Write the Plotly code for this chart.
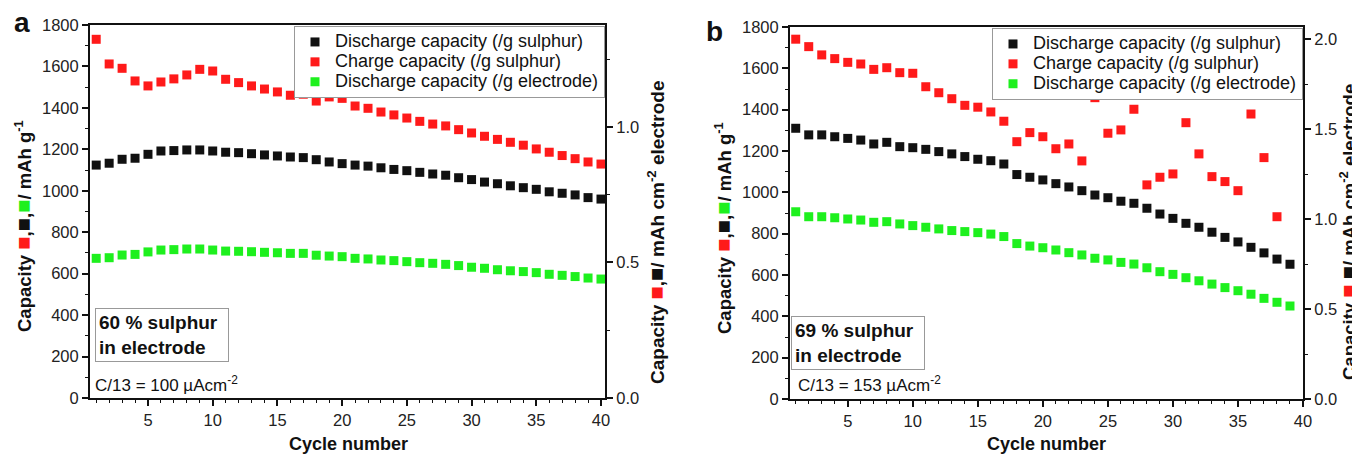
import plotly.graph_objects as go

# ---------------- data ----------------
cycles_a = list(range(1, 41))
charge_a = [1731, 1612, 1591, 1530, 1506, 1525, 1540, 1559, 1586, 1578,
            1538, 1522, 1506, 1491, 1477, 1461, 1466, 1433, 1453, 1446,
            1409, 1398, 1380, 1366, 1351, 1335, 1322, 1313, 1295, 1279,
            1263, 1248, 1234, 1220, 1202, 1186, 1170, 1155, 1139, 1129]
discharge_a = [1124, 1133, 1152, 1157, 1176, 1192, 1194, 1197, 1197, 1192,
               1186, 1184, 1179, 1173, 1168, 1163, 1160, 1150, 1139, 1131,
               1124, 1119, 1111, 1103, 1097, 1089, 1081, 1075, 1063, 1054,
               1042, 1034, 1024, 1015, 1007, 995, 988, 980, 967, 960]
electrode_a = [674, 677, 690, 693, 705, 714, 716, 719, 719, 714,
               709, 708, 706, 703, 701, 698, 698, 689, 685, 682,
               674, 671, 666, 663, 658, 653, 650, 645, 639, 631,
               626, 619, 614, 610, 605, 597, 592, 586, 579, 574]

cycles_b = list(range(1, 40))
charge_b = [1741, 1705, 1665, 1647, 1629, 1621, 1595, 1603, 1579, 1576,
            1511, 1482, 1453, 1421, 1412, 1389, 1344, 1245, 1289, 1269,
            1211, 1234, 1152, 1458, 1286, 1302, 1402, 1036, 1073, 1089,
            1337, 1186, 1076, 1052, 1008, 1379, 1168, 882]
discharge_b = [1310, 1278, 1278, 1269, 1261, 1253, 1234, 1242, 1221, 1216,
               1208, 1197, 1186, 1173, 1160, 1153, 1137, 1086, 1073, 1060,
               1042, 1026, 1008, 987, 974, 957, 947, 923, 895, 874,
               850, 831, 807, 782, 760, 734, 707, 677, 652]
electrode_b = [906, 882, 882, 877, 871, 866, 855, 858, 847, 839,
               831, 823, 815, 810, 805, 798, 786, 752, 740, 732,
               721, 708, 697, 681, 673, 661, 653, 635, 616, 603,
               587, 572, 556, 539, 524, 507, 487, 468, 450]

series_names = ["Discharge capacity (/g sulphur)",
                "Charge capacity (/g sulphur)",
                "Discharge capacity (/g electrode)"]
x_ticks = [5, 10, 15, 20, 25, 30, 35, 40]
left_ticks = [0, 200, 400, 600, 800, 1000, 1200, 1400, 1600, 1800]

# ---------------- style ----------------
W, H = 1360, 455
OFF = 8  # page offset of the plot div inside the browser window
BLACK = "#111111"
RED = "#ff1a1a"
GREEN = "#1ef01e"
FONT = "Liberation Sans, Arial, sans-serif"
MS = 9

def px(x):
    return (x - OFF) / W

def py(y):
    return 1 - (y - OFF) / H

fig = go.Figure()

def add_panel(cyc, dis, chg, ele, xa, ya, leg):
    data = [(series_names[0], cyc[:len(dis)], dis, BLACK),
            (series_names[1], cyc[:len(chg)], chg, RED),
            (series_names[2], cyc[:len(ele)], ele, GREEN)]
    for name, xs, ys, col in data:
        fig.add_trace(go.Scatter(
            x=xs, y=ys, mode="markers",
            name=f"<span style='font-size:18px'>{name}</span>",
            marker=dict(symbol="square", size=MS, color=col, line=dict(width=0)),
            xaxis=xa, yaxis=ya, legend=leg, cliponaxis=False))

add_panel(cycles_a, discharge_a, charge_a, electrode_a, "x", "y", "legend")
add_panel(cycles_b, discharge_b, charge_b, electrode_b, "x2", "y3", "legend2")
# empty traces to attach the right-hand axes
fig.add_trace(go.Scatter(x=[], y=[], xaxis="x", yaxis="y2", showlegend=False))
fig.add_trace(go.Scatter(x=[], y=[], xaxis="x2", yaxis="y4", showlegend=False))

tickfont = dict(family=FONT, size=16.5, color="#222")
axline = dict(showline=True, linecolor="#111", linewidth=2, showgrid=False,
              zeroline=False, ticks="outside", ticklen=6, tickwidth=1.5,
              tickcolor="#111", tickfont=tickfont, automargin=False)

dom_a = [px(90), px(605)]
dom_b = [px(790), px(1303)]
ydom_a = [py(398), py(25)]
ydom_b = [py(399), py(27)]

xminor = dict(dtick=1, tick0=0, ticklen=3, tickwidth=1.2, tickcolor="#111", ticks="outside")
lminor = dict(dtick=100, ticklen=3, tickwidth=1.2, tickcolor="#111", ticks="outside")
rminor = dict(dtick=0.25, ticklen=3, tickwidth=1.2, tickcolor="#111", ticks="outside")

legend_style = dict(xanchor="right", yanchor="top", bgcolor="white",
                    bordercolor="#999", borderwidth=1,
                    font=dict(family=FONT, size=13, color="#111"),
                    tracegroupgap=0, itemsizing="trace")

fig.update_layout(
    width=W, height=H,
    margin=dict(l=0, r=0, t=0, b=0, autoexpand=False),
    paper_bgcolor="white", plot_bgcolor="white",
    font=dict(family=FONT, color="#111"),
    xaxis=dict(domain=dom_a, range=[0.52, 40.31], anchor="y", tickvals=x_ticks,
               mirror=True, minor=xminor, **axline),
    yaxis=dict(domain=ydom_a, range=[0, 1800], anchor="x", tickvals=left_ticks,
               minor=lminor, **axline),
    yaxis2=dict(range=[0, 1.376], overlaying="y", side="right", anchor="x",
                tickvals=[0, 0.5, 1.0], tickformat=".1f", minor=rminor, **axline),
    xaxis2=dict(domain=dom_b, range=[0.56, 40.0], anchor="y3", tickvals=x_ticks,
                mirror=True, minor=xminor, **axline),
    yaxis3=dict(domain=ydom_b, range=[0, 1800], anchor="x2", tickvals=left_ticks,
                minor=lminor, **axline),
    yaxis4=dict(range=[0, 2.067], overlaying="y3", side="right", anchor="x2",
                tickvals=[0, 0.5, 1.0, 1.5, 2.0], tickformat=".1f", minor=rminor, **axline),
    legend=dict(x=px(605), y=py(26), **legend_style),
    legend2=dict(x=px(1303), y=py(28), **legend_style),
    showlegend=True,
)

sq = "<span style='font-size:22px'>\u25a0</span>"
rsq = f"<span style='font-size:22px;color:{RED}'>\u25a0</span>"
gsq = f"<span style='font-size:22px;color:{GREEN}'>\u25a0</span>"
left_title = f"<b>Capacity {rsq},{sq},{gsq}/ mAh g<sup>-1</sup></b>"
right_title = f"<b>Capacity {rsq},{sq}/ mAh cm<sup>-2</sup> electrode</b>"

annots = [
    # panel letters
    dict(x=px(22), y=py(23), text="<b>a</b>", font=dict(size=28)),
    dict(x=px(714), y=py(31), text="<b>b</b>", font=dict(size=28)),
    # axis titles
    dict(x=px(23), y=py(226), text=left_title, textangle=-90, font=dict(size=18.5)),
    dict(x=px(656), y=py(233), text=right_title, textangle=-90, font=dict(size=19)),
    dict(x=px(723), y=py(228), text=left_title, textangle=-90, font=dict(size=18.5)),
    dict(x=px(1348), y=py(232), text=right_title, textangle=-90, font=dict(size=18.5)),
    dict(x=px(348), y=py(444), text="<b>Cycle number</b>", font=dict(size=18)),
    dict(x=px(1046), y=py(444), text="<b>Cycle number</b>", font=dict(size=18)),
    # boxes
    dict(x=px(162), y=py(335), text="<b>60 % sulphur<br>in electrode</b>",
         align="left", font=dict(size=19), bordercolor="#999", borderwidth=1,
         borderpad=3, bgcolor="white", width=126),
    dict(x=px(858), y=py(343), text="<b>69 % sulphur<br>in electrode</b>",
         align="left", font=dict(size=19), bordercolor="#999", borderwidth=1,
         borderpad=3, bgcolor="white", width=126),
    dict(x=px(93), y=py(384), xanchor="left",
         text="C/13 = 100 \u00b5Acm<sup>-2</sup>", font=dict(size=17)),
    dict(x=px(796), y=py(384), xanchor="left",
         text="C/13 = 153 \u00b5Acm<sup>-2</sup>", font=dict(size=17)),
]
for a in annots:
    a.setdefault("xanchor", "center")
    a.setdefault("yanchor", "middle")
    a["font"] = dict(family=FONT, color="#111", **a["font"])
    fig.add_annotation(xref="paper", yref="paper", showarrow=False, **a)

fig.write_html("out.html")
